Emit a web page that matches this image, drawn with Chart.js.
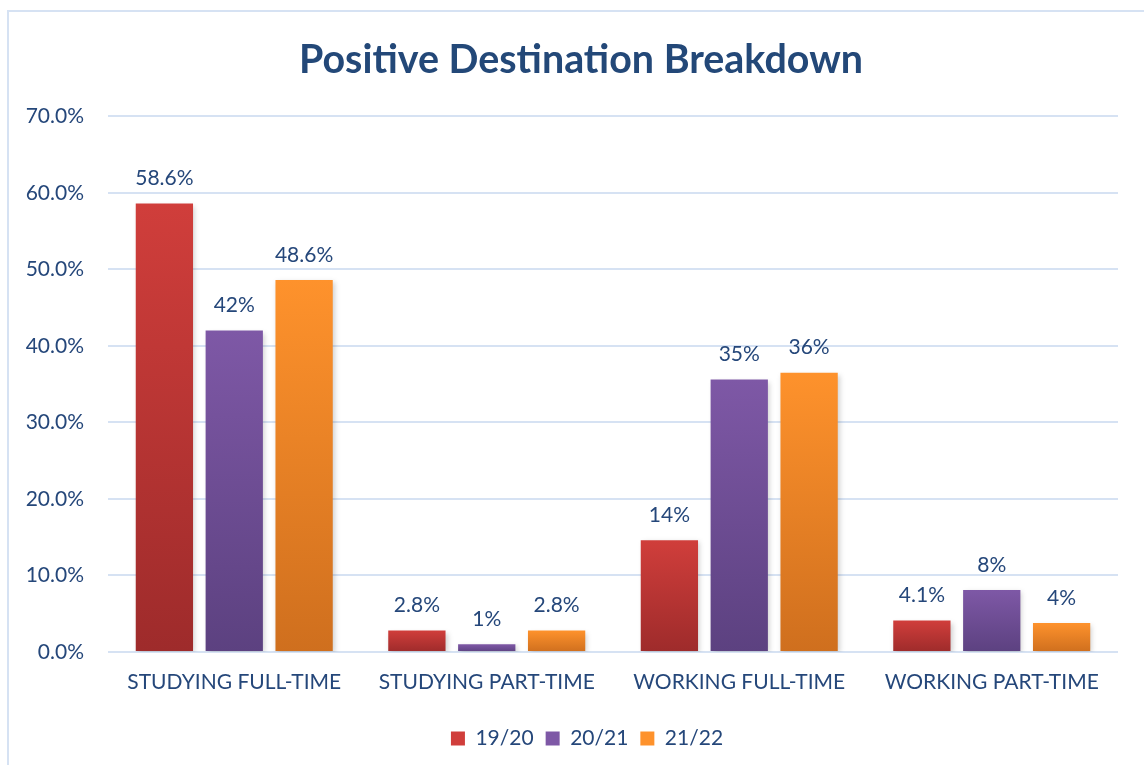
<!DOCTYPE html>
<html lang="en">
<head>
  <meta charset="UTF-8">
  <title>Positive Destination Breakdown</title>
  <script src="https://cdn.jsdelivr.net/npm/chart.js"></script>
  <style>
    body {
      margin: 0;
      background: #ffffff;
    }
    .wrap {
      width: 1144px;
      height: 765px;
      position: relative;
    }
  </style>
</head>
<body>
  <div class="wrap"><canvas id="destChart"></canvas></div>

  <script>
    // Data
    const categories = ['STUDYING FULL-TIME', 'STUDYING PART-TIME', 'WORKING FULL-TIME', 'WORKING PART-TIME'];
    const seriesNames = ['19/20', '20/21', '21/22'];
    const values1920 = [58.6, 2.8, 14.6, 4.1];
    const values2021 = [42, 1, 35.6, 8.1];
    const values2122 = [48.6, 2.8, 36.5, 3.8];
    const labels1920 = ['58.6%', '2.8%', '14%', '4.1%'];
    const labels2021 = ['42%', '1%', '35%', '8%'];
    const labels2122 = ['48.6%', '2.8%', '36%', '4%'];

    const textColor = '#25477a';
    const font = "Lato, 'Open Sans', sans-serif";

    // top / bottom colours of each bar gradient
    const palette = [
      ['#d03e3b', '#9e2b2b'],
      ['#7e58a6', '#5c4180'],
      ['#fe922c', '#cf6f1e']
    ];

    function barGradient(idx) {
      return function (context) {
        const chart = context.chart;
        const { ctx, chartArea, scales } = chart;
        if (!chartArea || context.dataIndex === undefined) return palette[idx][0];
        const v = context.raw;
        const top = scales.y.getPixelForValue(v);
        const bottom = scales.y.getPixelForValue(0);
        const g = ctx.createLinearGradient(0, top, 0, bottom + 0.01);
        g.addColorStop(0, palette[idx][0]);
        g.addColorStop(1, palette[idx][1]);
        return g;
      };
    }

    // outer light-blue frame
    const framePlugin = {
      id: 'frame',
      beforeDraw(chart) {
        const ctx = chart.ctx;
        ctx.save();
        ctx.strokeStyle = '#d6e2f3';
        ctx.lineWidth = 2;
        ctx.strokeRect(8, 11, chart.width + 20, chart.height + 20);
        ctx.restore();
      }
    };

    // nudge legend and title to the right like the original
    const boxShift = {
      id: 'boxShift',
      afterLayout(chart) {
        chart.legend.left += 18;
        chart.legend.right += 18;
        chart.titleBlock.left += 12;
        chart.titleBlock.right += 12;
      }
    };

    // soft shadow behind bars
    const shadowPlugin = {
      id: 'barShadow',
      beforeDatasetDraw(chart) {
        const ctx = chart.ctx;
        ctx.save();
        ctx.shadowColor = 'rgba(0,0,0,0.18)';
        ctx.shadowBlur = 5;
        ctx.shadowOffsetX = 2;
        ctx.shadowOffsetY = 2;
      },
      afterDatasetDraw(chart) {
        chart.ctx.restore();
      }
    };

    // value labels above bars
    const valueLabels = [labels1920, labels2021, labels2122];
    const labelPlugin = {
      id: 'valueLabels',
      afterDatasetsDraw(chart) {
        const ctx = chart.ctx;
        ctx.save();
        ctx.fillStyle = textColor;
        ctx.font = '21px ' + font;
        ctx.textAlign = 'center';
        ctx.textBaseline = 'middle';
        chart.data.datasets.forEach((ds, i) => {
          chart.getDatasetMeta(i).data.forEach((bar, j) => {
            ctx.fillText(valueLabels[i][j], bar.x, bar.y - 25);
          });
        });
        ctx.restore();
      }
    };

    const ctx = document.getElementById('destChart').getContext('2d');
    const destChart = new Chart(ctx, {
      type: 'bar',
      data: {
        labels: categories,
        datasets: [
          { label: seriesNames[0], data: values1920, backgroundColor: barGradient(0) },
          { label: seriesNames[1], data: values2021, backgroundColor: barGradient(1) },
          { label: seriesNames[2], data: values2122, backgroundColor: barGradient(2) }
        ]
      },
      options: {
        responsive: true,
        maintainAspectRatio: false,
        animation: false,
        layout: {
          padding: { left: 20, right: 26, top: 0, bottom: 6 }
        },
        datasets: {
          bar: {
            categoryPercentage: 0.83,
            barPercentage: 0.82
          }
        },
        plugins: {
          title: {
            display: true,
            text: 'Positive Destination Breakdown',
            color: '#234878',
            font: { family: font, size: 39.4, weight: 'bold' },
            padding: { top: 37, bottom: 32 }
          },
          legend: {
            position: 'bottom',
            labels: {
              color: textColor,
              font: { family: font, size: 21 },
              boxWidth: 14,
              boxHeight: 14,
              padding: 12,
              generateLabels(chart) {
                return seriesNames.map((name, i) => ({
                  text: name,
                  fillStyle: palette[i][0],
                  strokeStyle: palette[i][0],
                  lineWidth: 0,
                  fontColor: textColor,
                  datasetIndex: i
                }));
              }
            }
          },
          tooltip: { enabled: false }
        },
        scales: {
          x: {
            grid: { display: false },
            border: { display: false },
            ticks: {
              color: textColor,
              font: { family: font, size: 21 },
              padding: 10
            },
            afterFit(scale) { scale.height = 64; }
          },
          y: {
            min: 0,
            max: 70,
            ticks: {
              stepSize: 10,
              color: textColor,
              font: { family: font, size: 21 },
              padding: 24,
              callback: (v) => v.toFixed(1) + '%'
            },
            grid: { color: '#d6e2f3', lineWidth: 2, drawTicks: false },
            border: { display: false },
            afterFit(scale) { scale.width = 88; }
          }
        }
      },
      plugins: [framePlugin, boxShift, shadowPlugin, labelPlugin]
    });
  </script>
</body>
</html>
